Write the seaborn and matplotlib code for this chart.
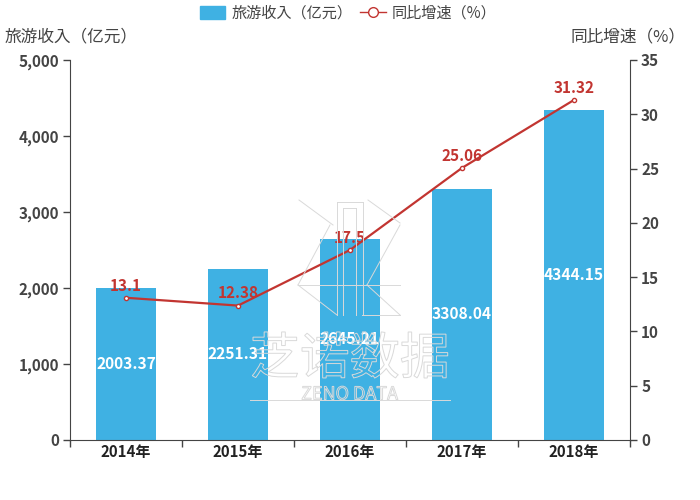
import matplotlib
matplotlib.use("Agg")
import matplotlib.pyplot as plt
from matplotlib.font_manager import FontProperties
from matplotlib.textpath import TextPath
from matplotlib.patches import Patch, PathPatch
from matplotlib.lines import Line2D
from matplotlib.transforms import Affine2D
import numpy as np
import pandas as pd
import seaborn as sns

years = ["2014年", "2015年", "2016年", "2017年", "2018年"]
revenue = [2003.37, 2251.31, 2645.21, 3308.04, 4344.15]
revenue_labels = ["2003.37", "2251.31", "2645.21", "3308.04", "4344.15"]
growth = [13.1, 12.38, 17.5, 25.06, 31.32]
growth_labels = ["13.1", "12.38", "17.5", "25.06", "31.32"]
left_ticks = [0, 1000, 2000, 3000, 4000, 5000]
right_ticks = [0, 5, 10, 15, 20, 25, 30, 35]
bar_name = "旅游收入（亿元）"
line_name = "同比增速（%）"

CJK = "Noto Sans CJK JP"
plt.rcParams["font.family"] = CJK
BLUE = "#3fb1e3"
RED = "#c23531"
DARK = "#444444"
GHOST = "#d9d9d9"

df = pd.DataFrame({"year": years, "revenue": revenue, "growth": growth})

fig = plt.figure(figsize=(7, 5), dpi=100)
ax = fig.add_axes([70 / 700, 1 - 440 / 500, 560 / 700, 380 / 500])
sns.barplot(data=df, x="year", y="revenue", color=BLUE, saturation=1, width=0.536, ax=ax, zorder=2)
ax.set_xlim(-0.5, 4.5)
ax.set_ylim(0, 5000)
ax.set_yticks(left_ticks)
ax.set_yticklabels([f"{v:,}" for v in left_ticks], fontsize=11, color=DARK, weight="bold")
ax.set_xlabel("")
ax.set_ylabel("")
ax.set_xticks(np.arange(-0.5, 5, 1))
ax.set_xticklabels([])
ax.set_xticks(range(5), minor=True)
ax.set_xticklabels(years, minor=True, fontsize=10.8, color="#222222", weight="bold")
ax.tick_params(axis="x", which="major", length=5, width=1, color=DARK)
ax.tick_params(axis="x", which="minor", length=0, pad=3)
ax.tick_params(axis="y", length=5, width=1, color=DARK, pad=3)
for s in ["top", "right"]:
    ax.spines[s].set_visible(False)
for s in ["left", "bottom"]:
    ax.spines[s].set_color(DARK)

ax2 = ax.twinx()
sns.lineplot(data=df, x="year", y="growth", color=RED, linewidth=1.6, marker="o", markersize=3,
             markerfacecolor="white", markeredgecolor=RED, markeredgewidth=1, sort=False, ax=ax2, zorder=5)
ax2.set_ylim(0, 35)
ax2.set_yticks(right_ticks)
ax2.set_yticklabels([str(v) for v in right_ticks], fontsize=11, color=DARK, weight="bold")
ax2.set_ylabel("")
ax2.tick_params(axis="y", length=5, width=1, color=DARK, pad=3)
for s in ["top", "left", "bottom"]:
    ax2.spines[s].set_visible(False)
ax2.spines["right"].set_color(DARK)

for i, (v, lab) in enumerate(zip(revenue, revenue_labels)):
    ax.text(i, v / 2, lab, ha="center", va="center", color="white", fontsize=11.2, zorder=6, weight="bold")
for i, (v, lab) in enumerate(zip(growth, growth_labels)):
    ax2.annotate(lab, (i, v), xytext=(0, 3), textcoords="offset points", ha="center", va="bottom",
                 color=RED, fontsize=11, zorder=7, weight="bold")

# watermark: outlined glyphs and emblem in pixel space
to_fig = Affine2D().scale(1, -1).translate(0, 500) + Affine2D().scale(1 / 700, 1 / 500) + fig.transFigure

def ghost_text(txt, x, y, size):
    fp = FontProperties(family=CJK)
    tp = TextPath((0, 0), txt, size=size, prop=fp)
    bb = tp.get_extents()
    place = Affine2D().translate(-bb.x0 - bb.width / 2, -bb.y0 - bb.height / 2).scale(1, -1).translate(x, y)
    fig.add_artist(PathPatch(tp, transform=place + to_fig, facecolor="none", edgecolor=GHOST, lw=0.7, zorder=4))

ghost_text("芝诺数据", 350, 355, 50)
ghost_text("ZENO DATA", 350, 393, 18)

emblem = [((299, 200), (333, 225)), ((368, 200), (400, 223)), ((400, 225), (367, 285)), ((298, 285), (330, 225)),
          ((298, 285), (400, 285)), ((298, 285), (337, 315)), ((367, 285), (400, 315)), ((400, 315), (362, 315)),
          ((337, 202), (363, 202)), ((337, 202), (337, 315)), ((363, 202), (363, 315)), ((343, 208), (356, 208)),
          ((343, 208), (343, 315)), ((356, 208), (356, 315)), ((250, 399.5), (450, 399.5))]
for p, q in emblem:
    fig.add_artist(Line2D([p[0], q[0]], [p[1], q[1]], color=GHOST, lw=0.7, transform=to_fig, zorder=4))

# axis names
fig.text(5 / 700, 1 - 37 / 500, bar_name, ha="left", va="center", fontsize=12, color=DARK)
fig.text(686 / 700, 1 - 37 / 500, line_name, ha="right", va="center", fontsize=12, color=DARK)

# legend
handles = [Patch(facecolor=BLUE, edgecolor=BLUE, label=bar_name),
           Line2D([], [], color=RED, lw=1, marker="o", markersize=7, markerfacecolor="white",
                  markeredgecolor=RED, label=line_name)]
fig.legend(handles=handles, loc="center", bbox_to_anchor=(348 / 700, 1 - 13 / 500), ncol=2, frameon=False,
           fontsize=10.9, labelcolor=DARK, handlelength=1.7, handleheight=0.9, columnspacing=0.5,
           handletextpad=0.4, borderpad=0)

fig.savefig("out.png", dpi=100)
